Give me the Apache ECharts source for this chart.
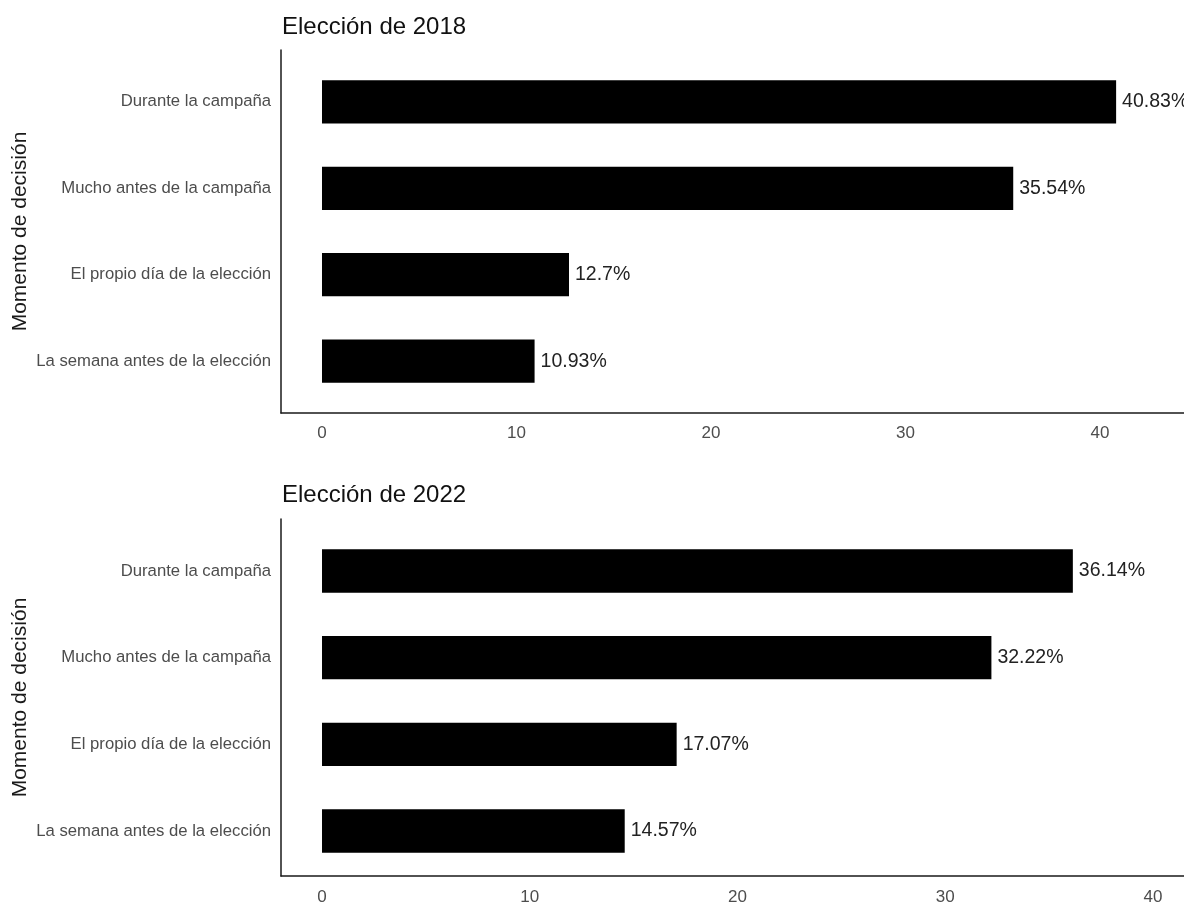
<!DOCTYPE html>
<html>
<head>
<meta charset="utf-8">
<script src="https://cdn.jsdelivr.net/npm/echarts@6/dist/echarts.min.js"></script>
<style>
  html, body { margin: 0; padding: 0; background: #fff; }
  #chart { width: 1184px; height: 906px; }
</style>
</head>
<body>
<div id="chart"></div>
<script>
// categories, top to bottom
const categories = [
    'Durante la campaña',
    'Mucho antes de la campaña',
    'El propio día de la elección',
    'La semana antes de la elección'
];
const values2018 = [40.83, 35.54, 12.7, 10.93];
const values2022 = [36.14, 32.22, 17.07, 14.57];
const tickValues = [0, 10, 20, 30, 40];
const titles = ['Elección de 2018', 'Elección de 2022'];
const axisName = 'Momento de decisión';

const FONT = '"Liberation Sans", Arial, sans-serif';

// panel geometry (axis frame), ggplot-like 0.6 discrete expansion for the bars
const panels = [
    { top: 50, height: 363, xMin: -2.108, xMax: 44.32, values: values2018, titleTop: 15, labelMargin: 12 },
    { top: 519, height: 364, xMin: -1.974, xMax: 41.49, values: values2022, titleTop: 483, labelMargin: 13 }
];

const chart = echarts.init(document.getElementById('chart'));

const grid = [];
const xAxis = [];
const yAxis = [];
const series = [];
const title = [];

panels.forEach((p, i) => {
    const unit = p.height / 4.2;
    // frame grid (axis lines + tick labels)
    grid.push({ left: 281, right: 0, top: p.top, height: p.height });
    // bar grid
    grid.push({ left: 281, right: 0, top: p.top + 0.1 * unit, height: 4 * unit });

    xAxis.push({
        type: 'value', gridIndex: 2 * i, min: p.xMin, max: p.xMax,
        axisLine: { show: true, onZero: false, lineStyle: { color: '#1a1a1a', width: 1.5 } },
        axisTick: { show: false },
        splitLine: { show: false },
        axisLabel: {
            customValues: tickValues, margin: p.labelMargin,
            color: '#4d4d4d', fontSize: 17, fontFamily: FONT
        }
    });
    xAxis.push({ type: 'value', gridIndex: 2 * i + 1, min: p.xMin, max: p.xMax, show: false });

    yAxis.push({
        type: 'value', gridIndex: 2 * i, min: 0, max: 1,
        axisLine: { show: true, onZero: false, lineStyle: { color: '#1a1a1a', width: 1.5 } },
        axisTick: { show: false },
        axisLabel: { show: false },
        splitLine: { show: false },
        name: axisName, nameLocation: 'middle', nameRotate: 90, nameGap: 250,
        nameTextStyle: { color: '#1a1a1a', fontSize: 21, fontFamily: FONT }
    });
    yAxis.push({
        type: 'category', gridIndex: 2 * i + 1, data: categories, inverse: true,
        axisLine: { show: false },
        axisTick: { show: false },
        axisLabel: { margin: 10, color: '#4d4d4d', fontSize: 16.7, fontFamily: FONT }
    });

    series.push({
        type: 'bar', xAxisIndex: 2 * i + 1, yAxisIndex: 2 * i + 1,
        data: p.values, barWidth: '50%',
        itemStyle: { color: '#000' },
        label: {
            show: true, position: 'right', distance: 6,
            formatter: params => params.value + '%',
            color: '#222', fontSize: 19.5, fontFamily: FONT
        },
        silent: true
    });

    title.push({
        text: titles[i], left: 282, top: p.titleTop, padding: 0,
        textStyle: { color: '#111', fontSize: 24, fontWeight: 'normal', fontFamily: FONT }
    });
});

chart.setOption({
    animation: false,
    backgroundColor: '#fff',
    title,
    grid,
    xAxis,
    yAxis,
    series
});
</script>
</body>
</html>
